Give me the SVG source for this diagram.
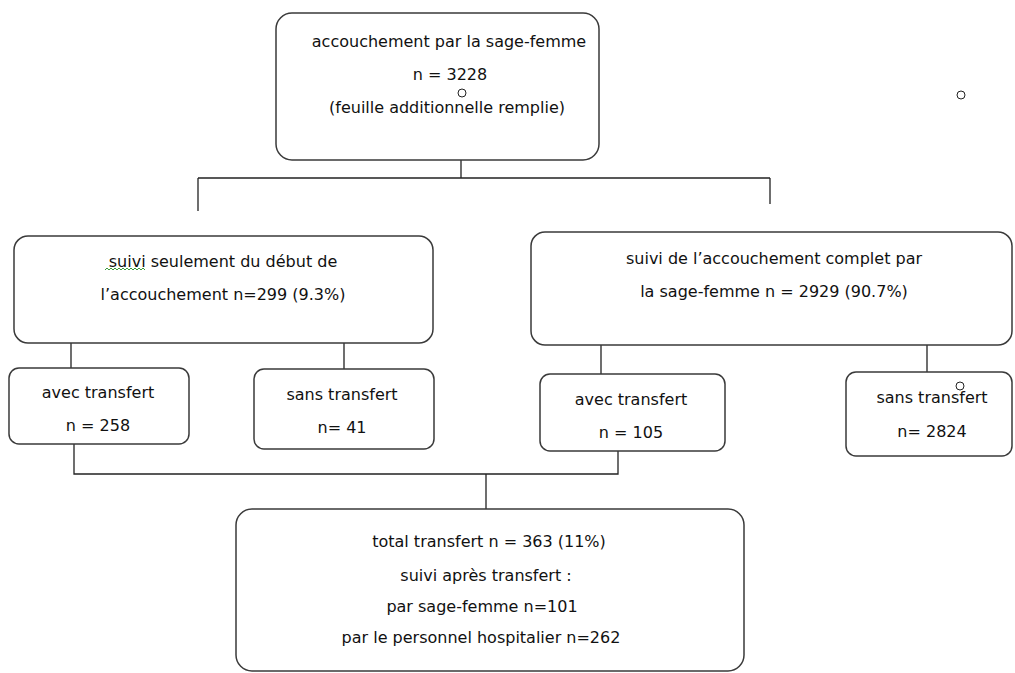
<svg xmlns="http://www.w3.org/2000/svg" width="1015" height="673" viewBox="0 0 1015 673">
<style>
.box{fill:#fff;stroke:#3a3a3a;stroke-width:1.5}
.ln{fill:none;stroke:#222;stroke-width:1.3}
text{font-family:"DejaVu Sans",Verdana,sans-serif;font-size:16px;fill:#111;text-anchor:middle}
.dot{fill:none;stroke:#222;stroke-width:1}
</style>
<rect width="1015" height="673" fill="#fff"/>
<g id="connectors">
<path class="ln" d="M461 160V178M198 178H770M198 178V211M770 178V204"/>
<path class="ln" d="M71 343V368M344 343V369M601 345V374M927 345V372"/>
<path class="ln" d="M74 444V474H618V451M486 474V509"/>
</g>
<g id="n_top">
<rect class="box" x="276" y="13" width="323" height="147" rx="16"/>
<text x="449" y="47">accouchement par la sage-femme</text>
<text x="450" y="80">n = 3228</text>
<text x="447" y="113">(feuille additionnelle remplie)</text>
<circle class="dot" cx="462" cy="93" r="4"/>
</g>
<g id="n_debut">
<rect class="box" x="14" y="236" width="419" height="107" rx="14"/>
<text x="223" y="267">suivi seulement du début de</text>
<text x="223" y="300">l’accouchement n=299 (9.3%)</text>
<path d="M105 270l2-2 2 2 2-2 2 2 2-2 2 2 2-2 2 2 2-2 2 2 2-2 2 2 2-2 2 2 2-2 2 2 2-2 2 2 2-2 2 2" fill="none" stroke="#3c9a3c" stroke-width="1"/>
</g>
<g id="n_complet">
<rect class="box" x="531" y="232" width="481" height="113" rx="14"/>
<text x="774" y="264">suivi de l’accouchement complet par</text>
<text x="774" y="297">la sage-femme n = 2929 (90.7%)</text>
</g>
<g id="n_avec1">
<rect class="box" x="9" y="368" width="180" height="76" rx="10"/>
<text x="98" y="398">avec transfert</text>
<text x="98" y="431">n = 258</text>
</g>
<g id="n_sans1">
<rect class="box" x="254" y="369" width="180" height="80" rx="10"/>
<text x="342" y="400">sans transfert</text>
<text x="342" y="433">n= 41</text>
</g>
<g id="n_avec2">
<rect class="box" x="540" y="374" width="185" height="77" rx="10"/>
<text x="631" y="405">avec transfert</text>
<text x="631" y="438">n = 105</text>
</g>
<g id="n_sans2">
<rect class="box" x="846" y="372" width="166" height="84" rx="10"/>
<text x="932" y="403">sans transfert</text>
<text x="932" y="437">n= 2824</text>
<circle class="dot" cx="960" cy="386" r="4"/>
</g>
<g id="n_total">
<rect class="box" x="236" y="509" width="508" height="162" rx="16"/>
<text x="489" y="547">total transfert n = 363 (11%)</text>
<text x="486" y="581">suivi après transfert :</text>
<text x="482" y="612">par sage-femme n=101</text>
<text x="481" y="643">par le personnel hospitalier n=262</text>
</g>
<circle class="dot" cx="961" cy="95" r="4"/>
</svg>
